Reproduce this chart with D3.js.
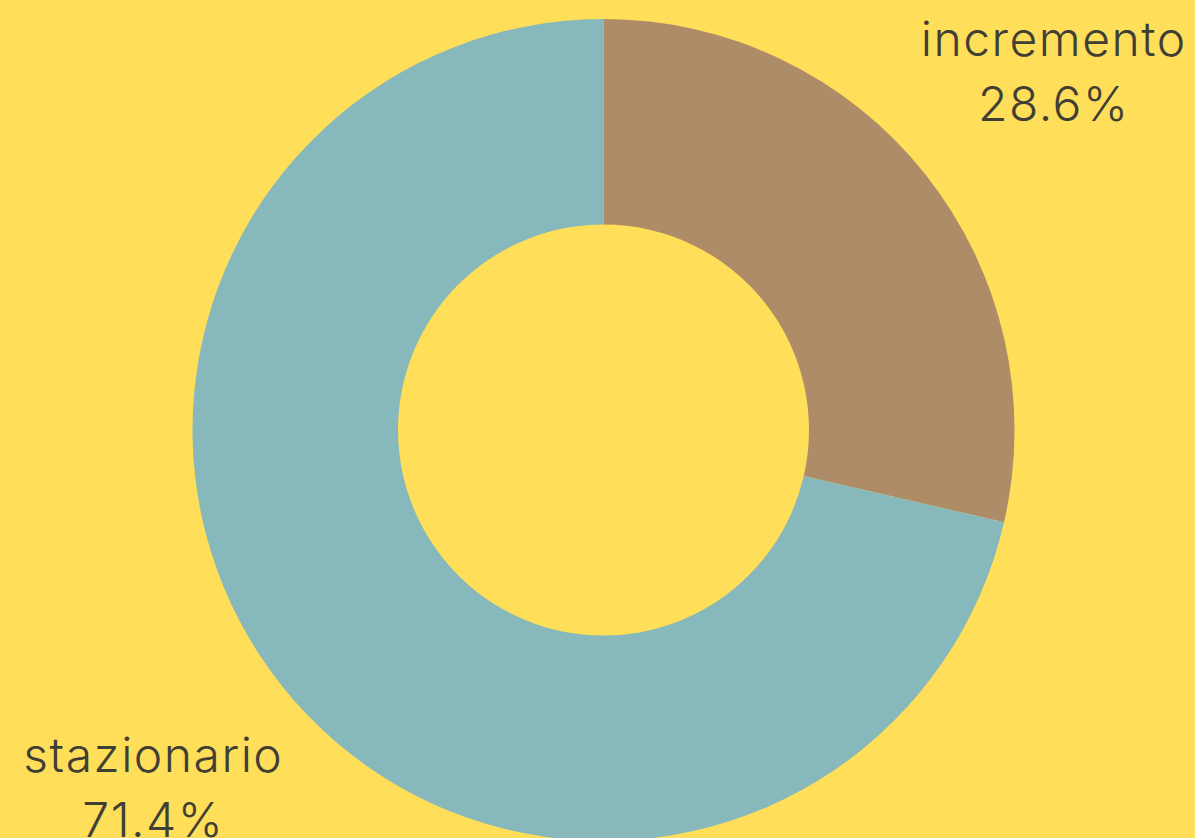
<!DOCTYPE html>
<html><head><meta charset="utf-8">
<script src="https://cdn.jsdelivr.net/npm/d3@7"></script>
<style>html,body{margin:0;padding:0;background:#FFDE59;overflow:hidden}</style>
</head><body><svg id="c" width="1195" height="838"></svg>
<script>
const categories = ["incremento", "stazionario"];
const values = [28.6, 71.4];
const colors = ["#AE8C68", "#87B8BB"];

const W = 1195, H = 838;
const cx = 603.5, cy = 430;
const outerR = 411, innerR = 205.5;
const svg = d3.select("#c");
svg.append("rect").attr("width", W).attr("height", H).attr("fill", "#FFDE59");
const g = svg.append("g").attr("transform", `translate(${cx},${cy})`);
const data = categories.map((c, i) => ({cat: c, value: values[i], color: colors[i]}));
const pie = d3.pie().value(d => d.value).sort(null);
const arc = d3.arc().innerRadius(innerR).outerRadius(outerR);
const labelArc = d3.arc().innerRadius(outerR * 1.4).outerRadius(outerR * 1.4);
const arcs = pie(data);
g.selectAll("path").data(arcs).join("path").attr("d", arc).attr("fill", d => d.data.color);
const lbl = g.selectAll("text.l").data(arcs).join("text").attr("class", "l")
  .attr("text-anchor", "middle")
  .attr("font-family", "Inter, 'Noto Sans', sans-serif")
  .attr("font-weight", 300)
  .attr("font-size", 48)
  .attr("letter-spacing", 1.5)
  .attr("fill", "#3F3F35")
  .attr("transform", d => { const [x, y] = labelArc.centroid(d); return `translate(${x},${y})`; });
lbl.append("tspan").attr("x", 0).attr("y", -16).text(d => d.data.cat);
lbl.append("tspan").attr("x", 0).attr("y", 49).text(d => d.data.value.toFixed(1) + "%");
</script></body></html>
